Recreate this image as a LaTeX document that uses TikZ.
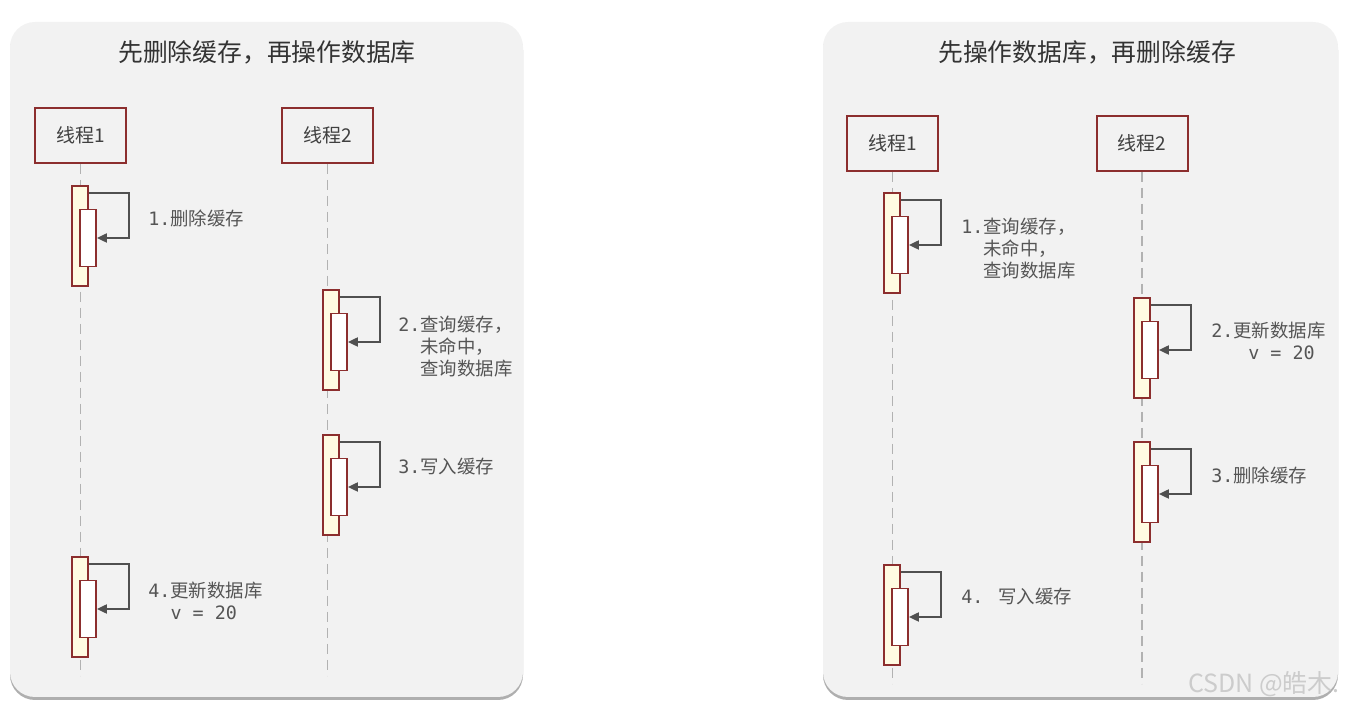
\documentclass[tikz,border=0pt]{standalone}
\usepackage{fontspec}
\setmainfont{Noto Sans CJK SC}
\newfontfamily\mono{DejaVu Sans Mono}
\usepackage{tikz}
\usetikzlibrary{arrows.meta,positioning,calc}
\usepackage{xcolor}
\definecolor{panelgray}{RGB}{242,242,242}
\definecolor{shadowgray}{RGB}{175,175,175}
\definecolor{threadred}{RGB}{140,46,46}
\definecolor{actyellow}{RGB}{255,251,226}
\definecolor{arrowgray}{RGB}{80,80,80}
\definecolor{textgray}{RGB}{85,85,85}
\definecolor{lifegray}{RGB}{178,178,178}

\tikzset{
  panel/.style={fill=panelgray, rounded corners=12.5pt},
  thread/.style={draw=threadred, line width=1pt, fill=panelgray, minimum width=45.5pt,
    minimum height=27.5pt, font=\fontsize{9.5}{11}\selectfont, text=black!75},
  life/.style={lifegray, line width=0.8pt, dash pattern=on 5pt off 3pt},
  act/.style={draw=threadred, line width=0.9pt, fill=actyellow, minimum width=8pt,
    minimum height=50pt, inner sep=0pt},
  actin/.style={draw=threadred, line width=0.9pt, fill=white, minimum width=8pt,
    minimum height=28.5pt, inner sep=0pt},
  msg/.style={arrowgray, line width=1pt, -{Triangle[length=5pt,width=4.5pt]}},
  lbl/.style={anchor=north west, inner sep=0pt, align=left, text=textgray,
    font=\fontsize{9.2}{10.9}\selectfont},
  ttl/.style={font=\fontsize{12.4}{15}\selectfont, text=black!80},
}

\begin{document}
\begin{tikzpicture}[x=0.5pt,y=-0.5pt]
    \useasboundingbox (0,0) rectangle (1346,705);
    % two panels with a soft shadow under them
    \fill[shadowgray,rounded corners=12.5pt] (10,25) rectangle (523,700);
    \fill[shadowgray,rounded corners=12.5pt] (823,25) rectangle (1338,700);
    \fill[panel] (10,22) rectangle (523,697);
    \fill[panel] (823,22) rectangle (1338,697);
    \node[ttl] (ttlL) at (267,52) {先删除缓存，再操作数据库};
    \node[ttl] (ttlR) at (1087,52) {先操作数据库，再删除缓存};
    % threads
    \node[thread] (l1) at (80.5,135.5) {线程1};
    \node[thread] (l2) at (327.5,135.5) {线程2};
    \node[thread] (r1) at (892.5,143.5) {线程1};
    \node[thread] (r2) at (1142,143.5) {线程2};
    \foreach \t in {l1,l2,r1,r2}
      \draw[life] (\t.south) -- ++(0,512);
    % activations with self calls
    \foreach \n/\x/\y in {a/80/236,b/331/340,c/331/485,d/80/607,e/892/243,f/1142/348,g/1142/492,h/892/615} {
      \node[act] (o\n) at (\x,\y) {};
      \node[actin] (i\n) at ([shift={(4pt,-1pt)}]o\n.center) {};
      \draw[msg] ([yshift=-4pt]o\n.north east) -- ++(20pt,0) |- (i\n.east);
    }
    % step labels
    \node[lbl] (la) at (148,210) {{\mono 1.}删除缓存};
    \node[lbl] (lb) at (398,316) {{\mono 2.}查询缓存，\\\hphantom{\mono 2.}未命中，\\\hphantom{\mono 2.}查询数据库};
    \node[lbl] (lc) at (398,458) {{\mono 3.}写入缓存};
    \node[lbl] (ld) at (148,582) {{\mono 4.}更新数据库\\\hphantom{\mono 4.}{\mono v = 20}};
    \node[lbl] (le) at (961,218) {{\mono 1.}查询缓存，\\\hphantom{\mono 1.}未命中，\\\hphantom{\mono 1.}查询数据库};
    \node[lbl] (lf) at (1211,322) {{\mono 2.}更新数据库\\\hphantom{\mono 2. }{\mono v = 20}};
    \node[lbl] (lg) at (1211,467) {{\mono 3.}删除缓存};
    \node[lbl] (lh) at (961,588) {{\mono 4. }写入缓存};
    % watermark
    \node[text=gray!40,font=\fontsize{12.5}{14}\selectfont] (wm) at (1264,684) {CSDN @皓木.};
  \end{tikzpicture}
\end{document}
